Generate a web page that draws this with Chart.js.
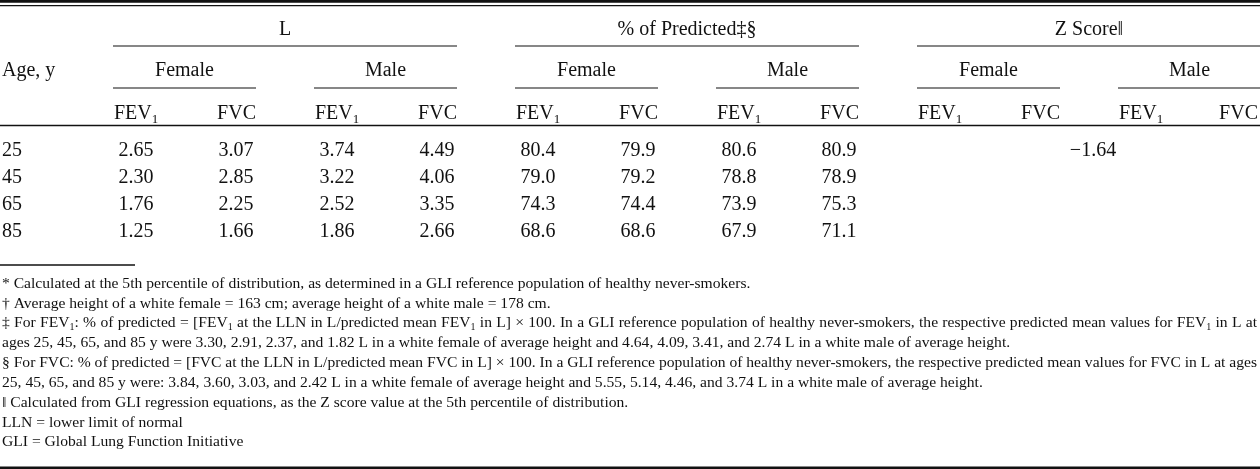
<!DOCTYPE html>
<html>
<head>
<meta charset="utf-8">
<script src="https://cdn.jsdelivr.net/npm/chart.js@4.4.0/dist/chart.umd.min.js"></script>
<style>
    html, body { margin: 0; padding: 0; background: #fff; }
    #wrap { width: 1260px; height: 469px; }
</style>
</head>
<body>
<div id="wrap"><canvas id="lungTable" width="1260" height="469"></canvas></div>
<script>
// Table values
const ages = [25, 45, 65, 85];
const litersFemaleFEV1 = [2.65, 2.30, 1.76, 1.25];
const litersFemaleFVC = [3.07, 2.85, 2.25, 1.66];
const litersMaleFEV1 = [3.74, 3.22, 2.52, 1.86];
const litersMaleFVC = [4.49, 4.06, 3.35, 2.66];
const predFemaleFEV1 = [80.4, 79.0, 74.3, 68.6];
const predFemaleFVC = [79.9, 79.2, 74.4, 68.6];
const predMaleFEV1 = [80.6, 78.8, 73.9, 67.9];
const predMaleFVC = [80.9, 78.9, 75.3, 71.1];
const zScoreAll = [-1.64];

const groupTitles = ["L", "% of Predicted‡§", "Z Score‖"];
const sexTitles = ["Female", "Male"];
const measureTitles = ["FEV_1", "FVC"];
const ageTitle = "Age, y";

// "_1" marks a subscript 1
const footnotes = [
    "* Calculated at the 5th percentile of distribution, as determined in a GLI reference population of healthy never-smokers.",
    "† Average height of a white female = 163 cm; average height of a white male = 178 cm.",
    "‡ For FEV_1: % of predicted = [FEV_1 at the LLN in L/predicted mean FEV_1 in L] × 100. In a GLI reference population of healthy never-smokers, the respective predicted mean values for FEV_1 in L at",
    "ages 25, 45, 65, and 85 y were 3.30, 2.91, 2.37, and 1.82 L in a white female of average height and 4.64, 4.09, 3.41, and 2.74 L in a white male of average height.",
    "§ For FVC: % of predicted = [FVC at the LLN in L/predicted mean FVC in L] × 100. In a GLI reference population of healthy never-smokers, the respective predicted mean values for FVC in L at ages",
    "25, 45, 65, and 85 y were: 3.84, 3.60, 3.03, and 2.42 L in a white female of average height and 5.55, 5.14, 4.46, and 3.74 L in a white male of average height.",
    "‖ Calculated from GLI regression equations, as the Z score value at the 5th percentile of distribution.",
    "LLN = lower limit of normal",
    "GLI = Global Lung Function Initiative",
];
const justified = [false, false, true, false, true, false, false, false, false];

// Layout (pixel units on both scales)
const W = 1260, H = 469;
const groupStart = [113, 515, 917];
const subStep = 201, subWidth = 143;
const rowY = [151, 178, 205, 232];
const footY = [284, 303.5, 323, 343, 363, 383, 403, 422.5, 442];
const INK = "#111";
const SERIF = '"Liberation Serif", "DejaVu Serif", serif';
const BODY = 20, NOTE = 15.6;

function colCenter(g, s, m) {
    const start = groupStart[g] + s * subStep;
    return m === 0 ? start + 23 : start + subWidth - 20;
}

const cellColumns = [
    { values: litersFemaleFEV1, x: colCenter(0, 0, 0), digits: 2 },
    { values: litersFemaleFVC, x: colCenter(0, 0, 1), digits: 2 },
    { values: litersMaleFEV1, x: colCenter(0, 1, 0), digits: 2 },
    { values: litersMaleFVC, x: colCenter(0, 1, 1), digits: 2 },
    { values: predFemaleFEV1, x: colCenter(1, 0, 0), digits: 1 },
    { values: predFemaleFVC, x: colCenter(1, 0, 1), digits: 1 },
    { values: predMaleFEV1, x: colCenter(1, 1, 0), digits: 1 },
    { values: predMaleFVC, x: colCenter(1, 1, 1), digits: 1 },
    { values: zScoreAll, x: 1093, digits: 2 },
];

const datasets = [{
    label: "age",
    data: ages.map((a, i) => ({ x: 2, y: rowY[i] })),
    values: ages, digits: 0, align: "left",
    pointRadius: 0,
}];
cellColumns.forEach((c, k) => {
    datasets.push({
        label: "col" + k,
        data: c.values.map((v, i) => ({ x: c.x, y: rowY[i] })),
        values: c.values, digits: c.digits, align: "center",
        pointRadius: 0,
    });
});

function fmt(v, digits) {
    const s = Math.abs(v).toFixed(digits);
    return v < 0 ? "\u2212" + s : s;
}

// rich text with "_1" subscripts
function pieces(text) {
    return text.split(/(_1)/).filter((p) => p !== "");
}
function richWidth(ctx, text, size) {
    let w = 0;
    pieces(text).forEach((p) => {
        ctx.font = (p === "_1" ? Math.round(size * 0.65) : size) + "px " + SERIF;
        w += ctx.measureText(p === "_1" ? "1" : p).width;
    });
    return w;
}
function drawRich(ctx, text, x, y, size) {
    pieces(text).forEach((p) => {
        if (p === "_1") {
            ctx.font = Math.round(size * 0.65) + "px " + SERIF;
            ctx.fillText("1", x, y + size * 0.28);
            x += ctx.measureText("1").width;
        } else {
            ctx.font = size + "px " + SERIF;
            ctx.fillText(p, x, y);
            x += ctx.measureText(p).width;
        }
    });
}
function drawLine(ctx, text, x, y, size, justifyTo) {
    if (!justifyTo) {
        drawRich(ctx, text, x, y, size);
        return;
    }
    const words = text.split(" ");
    const widths = words.map((w) => richWidth(ctx, w, size));
    const total = widths.reduce((a, b) => a + b, 0);
    const gap = (justifyTo - total) / (words.length - 1);
    words.forEach((w, i) => {
        drawRich(ctx, w, x, y, size);
        x += widths[i] + gap;
    });
}

const tablePlugin = {
    id: "tablePlugin",
    afterDatasetsDraw(chart) {
        const { ctx } = chart;
        const xs = chart.scales.x, ys = chart.scales.y;
        const px = (v) => xs.getPixelForValue(v);
        const py = (v) => ys.getPixelForValue(v);
        ctx.save();
        ctx.fillStyle = INK;
        ctx.strokeStyle = INK;
        ctx.textBaseline = "middle";

        const rule = (x0, x1, y, lw) => {
            ctx.lineWidth = lw;
            ctx.beginPath();
            ctx.moveTo(px(x0), py(y));
            ctx.lineTo(px(x1), py(y));
            ctx.stroke();
        };

        // borders
        rule(0, W, 1.4, 2.8);
        rule(0, W, 5.6, 1.2);
        rule(0, W, 125.5, 1.3);
        rule(0, 135, 265, 1.3);
        rule(0, W, 467.7, 2.6);

        // header rows
        ctx.font = BODY + "px " + SERIF;
        ctx.textAlign = "left";
        ctx.fillText(ageTitle, px(2), py(71));
        groupTitles.forEach((t, g) => {
            const x0 = groupStart[g], x1 = x0 + subStep + subWidth;
            ctx.font = BODY + "px " + SERIF;
            ctx.textAlign = "center";
            ctx.fillText(t, px((x0 + x1) / 2), py(30));
            rule(x0, Math.min(x1, W), 46, 1.1);
            sexTitles.forEach((s, k) => {
                const s0 = x0 + k * subStep, s1 = s0 + subWidth;
                ctx.font = BODY + "px " + SERIF;
                ctx.textAlign = "center";
                ctx.fillText(s, px((s0 + s1) / 2), py(71));
                rule(s0, Math.min(s1, W), 88, 1.1);
                ctx.textAlign = "left";
                drawRich(ctx, measureTitles[0], px(s0 + 1), py(114), BODY);
                const wFvc = richWidth(ctx, measureTitles[1], BODY);
                drawRich(ctx, measureTitles[1], px(Math.min(s1, W - 2)) - wFvc, py(114), BODY);
            });
        });

        // body cells, placed at each dataset point
        chart.data.datasets.forEach((ds, i) => {
            const meta = chart.getDatasetMeta(i);
            ctx.font = BODY + "px " + SERIF;
            ctx.textAlign = ds.align;
            meta.data.forEach((pt, j) => {
                ctx.fillText(fmt(ds.values[j], ds.digits), pt.x, pt.y);
            });
        });

        // footnotes
        ctx.textAlign = "left";
        footnotes.forEach((t, i) => {
            drawLine(ctx, t, px(2), py(footY[i]), NOTE, justified[i] ? 1255 : 0);
        });
        ctx.restore();
    },
};

new Chart(document.getElementById("lungTable"), {
    type: "scatter",
    data: { datasets },
    options: {
        responsive: false,
        animation: false,
        layout: { padding: 0 },
        plugins: { legend: { display: false }, tooltip: { enabled: false } },
        scales: {
            x: { type: "linear", min: 0, max: W, display: false },
            y: { type: "linear", min: 0, max: H, reverse: true, display: false },
        },
    },
    plugins: [tablePlugin],
});
</script>
</body>
</html>
